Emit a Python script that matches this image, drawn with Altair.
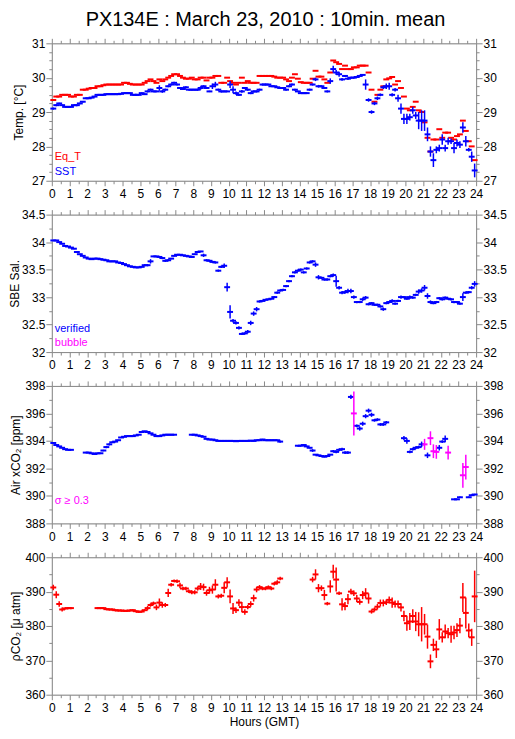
import altair as alt
import pandas as pd
import numpy as np

FONT = "Liberation Sans"
N = None

# ---- 10-minute means, six values per hour (00-24 GMT) ----
eq_t = [
    29.35, 29.45, 29.45, 29.5, 29.5, 29.5,
    29.45, 29.45, 29.5, 29.5, 29.65, 29.65,
    29.68, 29.7, 29.7, 29.75, 29.75, 29.78,
    29.8, 29.8, 29.8, 29.8, 29.8, 29.8,
    29.85, 29.85, 29.82, 29.8, 29.8, 29.8,
    29.8, 29.85, 29.9, 29.95, 29.9, 29.85,
    29.95, 29.9, 29.95, 30.0, 30.05, 30.1,
    30.1, 30.05, 30.0, 29.97, 29.97, 30.0,
    29.95, 29.95, 30.0, 30.0, 29.92, 30.0,
    30.0, 30.05, 30.05, 29.85, 29.85, 30.0,
    29.9, 29.85, 29.8, 29.85, 30.0, 29.85,
    29.9, 29.85, 29.85, 29.85, 30.05, 30.05,
    30.05, 30.05, 30.05, 30.03, 30.0, 30.0,
    30.0, 29.95, 29.9, 30.0, 30.1, 29.97,
    29.87, 29.85, 29.85, 29.85, 29.97, 30.2,
    30.03, 30.03, 29.95, 29.85, 30.15, 30.5,
    30.45, 30.4, 30.25, 30.35, 30.25, 30.25,
    30.3, 30.3, 30.35, 30.35, 30.35, 30.15,
    29.65, 29.3, 29.5, 29.65, 29.75, 29.95,
    29.98, 30.02, 29.8, 29.9, 29.7, 29.45,
    29.1, 29.05, 29.15, 29.3, 29.05, 29.0,
    28.7, 28.25, 27.85, 28.2, 28.2, 28.5,
    28.25, 28.4, 28.4, 28.25, 28.2, 28.3,
    28.35, 28.75, 28.45, 28.15, 28.0, 27.6,
]
sst = [
    29.1, 29.2, 29.25, 29.2, 29.15, 29.15,
    29.15, 29.2, 29.2, 29.25, 29.3, 29.4,
    29.4, 29.42, 29.45, 29.5, 29.5, 29.5,
    29.52, 29.52, 29.52, 29.52, 29.52, 29.53,
    29.55, 29.55, 29.55, 29.5, 29.5, 29.5,
    29.55, 29.52, 29.6, 29.65, 29.6, 29.6,
    29.7, 29.6, 29.65, 29.75, 29.8, 29.85,
    29.8, 29.7, 29.67, 29.72, 29.65, 29.65,
    29.65, 29.65, 29.7, 29.75, 29.7, 29.6,
    29.75, 29.8, 29.65, 29.6, 29.6, 29.6,
    29.8, 29.65, 29.55, 29.5, 29.6, 29.7,
    29.65, 29.55, 29.6, 29.6, 29.65, 29.8,
    29.8, 29.8, 29.75, 29.75, 29.72, 29.7,
    29.7, 29.65, 29.75, 29.8, 29.65, 29.6,
    29.55, 29.55, 29.55, 29.65, 29.8, 29.95,
    29.75, 29.75, 29.7, 29.6, 29.9, 30.25,
    30.15, 30.1, 29.95, 30.05, 29.97, 30.0,
    30.0, 30.02, 30.05, 30.08, 29.8, 29.35,
    29.0, 29.25, 29.4, 29.5, 29.72, 29.75,
    29.75, 29.5, 29.65, 29.4, 29.1, 28.8,
    28.8, 28.85, 29.05, 28.9, 28.75, 28.75,
    28.75, 28.35, 27.85, 27.6, 27.9, 27.95,
    28.2, 27.95, 28.15, 28.15, 27.95, 28.1,
    28.05, 28.55, 28.15, 27.9, 27.7, 27.3,
]
sst_sd = [
    0.03, 0.03, 0.02, 0.02, 0.02, 0.02,
    0.02, 0.02, 0.03, 0.02, 0.02, 0.02,
    0.02, 0.02, 0.02, 0.02, 0.02, 0.02,
    0.02, 0.02, 0.02, 0.02, 0.02, 0.02,
    0.02, 0.02, 0.02, 0.02, 0.03, 0.02,
    0.02, 0.02, 0.03, 0.03, 0.02, 0.02,
    0.08, 0.04, 0.03, 0.03, 0.03, 0.03,
    0.03, 0.03, 0.02, 0.03, 0.02, 0.02,
    0.02, 0.03, 0.05, 0.03, 0.03, 0.02,
    0.08, 0.08, 0.03, 0.03, 0.02, 0.02,
    0.1, 0.1, 0.05, 0.03, 0.04, 0.03,
    0.03, 0.03, 0.03, 0.03, 0.03, 0.03,
    0.03, 0.02, 0.02, 0.02, 0.02, 0.02,
    0.02, 0.03, 0.03, 0.03, 0.03, 0.02,
    0.02, 0.02, 0.02, 0.03, 0.03, 0.05,
    0.04, 0.03, 0.03, 0.03, 0.08, 0.1,
    0.07, 0.07, 0.04, 0.03, 0.04, 0.03,
    0.03, 0.02, 0.02, 0.02, 0.15, 0.05,
    0.05, 0.05, 0.05, 0.04, 0.05, 0.08,
    0.1, 0.05, 0.05, 0.1, 0.15, 0.15,
    0.15, 0.1, 0.1, 0.1, 0.25, 0.3,
    0.3, 0.2, 0.15, 0.2, 0.1, 0.1,
    0.15, 0.1, 0.1, 0.08, 0.15, 0.1,
    0.1, 0.15, 0.15, 0.05, 0.15, 0.2,
]
sal = [
    34.03, 34.03, 34.0, 33.97, 33.93, 33.92,
    33.9, 33.88, 33.82, 33.78, 33.75, 33.72,
    33.7, 33.69, 33.7, 33.7, 33.69, 33.68,
    33.67, 33.65, 33.65, 33.65, 33.63, 33.62,
    33.6, 33.58, 33.56, 33.55, 33.54, 33.54,
    33.55, 33.58, 33.58, 33.65, 33.74, 33.74,
    33.73, 33.71, 33.66, 33.67, 33.7, 33.75,
    33.77, 33.77, 33.76, 33.75, 33.74, 33.73,
    33.78, 33.82, 33.83, 33.76, 33.67, 33.66,
    33.64, 33.63, 33.48, 33.55, 33.57, 33.18,
    32.73, 32.57, 32.53, 32.44, 32.33, 32.34,
    32.37, 32.53, 32.7, 32.78, 32.92, 32.93,
    32.95, 32.96, 32.97, 33.0, 33.08, 33.12,
    33.13, 33.2, 33.29, 33.38, 33.45, 33.48,
    33.5, 33.45, 33.52, 33.63, 33.65, 33.59,
    33.36, 33.35, 33.32, 33.32, 33.38, 33.4,
    33.29, 33.17, 33.08, 33.09, 33.11, 33.11,
    33.0, 32.91, 32.91, 32.96, 32.99, 32.87,
    32.89, 32.86, 32.86, 32.83, 32.78, 32.89,
    32.91, 32.93, 32.88, 32.93, 33.0, 33.0,
    32.97, 33.0, 32.99, 33.04, 33.1, 33.12,
    33.17, 33.02, 32.91, 32.89, 32.91, 32.98,
    32.96, 32.99, 32.97, 32.96, 32.91, 32.91,
    32.88, 33.0, 33.08, 33.09, 33.17, 33.24,
]
sal_sd = [
    0.01, 0.01, 0.01, 0.01, 0.01, 0.01,
    0.01, 0.01, 0.01, 0.01, 0.01, 0.01,
    0.01, 0.01, 0.01, 0.01, 0.01, 0.01,
    0.01, 0.01, 0.01, 0.01, 0.01, 0.01,
    0.01, 0.01, 0.01, 0.01, 0.01, 0.01,
    0.01, 0.02, 0.02, 0.04, 0.01, 0.01,
    0.01, 0.02, 0.02, 0.02, 0.01, 0.01,
    0.01, 0.01, 0.01, 0.01, 0.01, 0.01,
    0.01, 0.01, 0.01, 0.03, 0.02, 0.02,
    0.02, 0.02, 0.02, 0.02, 0.04, 0.08,
    0.12, 0.03, 0.03, 0.03, 0.02, 0.02,
    0.03, 0.04, 0.04, 0.04, 0.02, 0.01,
    0.01, 0.01, 0.01, 0.02, 0.02, 0.02,
    0.02, 0.02, 0.02, 0.02, 0.02, 0.02,
    0.02, 0.02, 0.02, 0.02, 0.02, 0.04,
    0.04, 0.02, 0.02, 0.02, 0.02, 0.03,
    0.1, 0.03, 0.03, 0.03, 0.04, 0.04,
    0.03, 0.02, 0.02, 0.03, 0.03, 0.02,
    0.02, 0.02, 0.02, 0.02, 0.03, 0.02,
    0.02, 0.03, 0.02, 0.02, 0.03, 0.02,
    0.02, 0.03, 0.02, 0.02, 0.04, 0.04,
    0.05, 0.05, 0.03, 0.02, 0.02, 0.02,
    0.02, 0.02, 0.02, 0.02, 0.02, 0.02,
    0.02, 0.07, 0.02, 0.02, 0.03, 0.05,
]
xco2 = [
    393.85, 393.7, 393.6, 393.5, 393.4, 393.35,
    393.35, N, N, N, N, 393.15,
    393.15, 393.1, 393.05, 393.1, 393.1, 393.3,
    393.55, 393.75, 393.9, 393.95, 394.05, 394.25,
    394.3, 394.35, 394.35, 394.35, 394.4, 394.45,
    394.65, 394.7, 394.65, 394.55, 394.45, 394.35,
    394.35, 394.4, 394.45, 394.45, 394.45, 394.45,
    N, N, N, N, N, 394.45,
    394.45, 394.4, 394.35, 394.3, 394.15, 394.1,
    394.1, 394.05, 394.0, 394.0, 394.0, 394.0,
    394.0, 394.0, 393.98, 394.0, 394.0, 394.0,
    394.0, 394.02, 394.0, 394.05, 394.05, 394.1,
    394.05, 394.05, 394.05, 394.05, 394.05, 393.95,
    N, N, N, N, N, 393.65,
    393.65, 393.7, 393.6, 393.5, 393.3, 393.0,
    392.95, 392.9, 392.85, 392.9, 393.0, 393.25,
    393.2, 393.35, 393.4, 393.15, 393.15, 397.2,
    396.0, 395.1, 394.9, 395.25, 395.8, 396.2,
    395.9, 395.5, 395.55, 395.2, 395.2, 395.35,
    N, N, N, N, N, 394.2,
    394.0, 393.2, 393.4, 393.5, 393.55, 393.75,
    393.75, 392.95, 394.2, 393.25, 393.2, 393.5,
    393.95, 394.15, 393.15, N, 389.75, 389.75,
    389.9, 391.5, 392.1, 389.9, 390.05, 390.1,
]
xco2_sd = [
    0.05, 0.03, 0.03, 0.03, 0.03, 0.03,
    0.03, N, N, N, N, 0.03,
    0.03, 0.03, 0.03, 0.03, 0.03, 0.05,
    0.08, 0.08, 0.05, 0.05, 0.03, 0.03,
    0.03, 0.03, 0.03, 0.03, 0.03, 0.03,
    0.05, 0.03, 0.03, 0.03, 0.03, 0.03,
    0.03, 0.03, 0.03, 0.03, 0.03, 0.03,
    N, N, N, N, N, 0.03,
    0.03, 0.03, 0.03, 0.03, 0.03, 0.03,
    0.03, 0.03, 0.03, 0.03, 0.03, 0.03,
    0.03, 0.03, 0.03, 0.03, 0.03, 0.03,
    0.03, 0.03, 0.03, 0.03, 0.03, 0.05,
    0.03, 0.03, 0.03, 0.03, 0.03, 0.08,
    N, N, N, N, N, 0.05,
    0.05, 0.05, 0.05, 0.05, 0.1, 0.05,
    0.05, 0.05, 0.05, 0.05, 0.05, 0.08,
    0.1, 0.1, 0.1, 0.1, 0.1, 0.15,
    1.6, 0.1, 0.15, 0.15, 0.15, 0.15,
    0.15, 0.1, 0.1, 0.1, 0.1, 0.1,
    N, N, N, N, N, 0.15,
    0.2, 0.1, 0.1, 0.1, 0.1, 0.2,
    0.4, 0.2, 0.5, 0.5, 0.5, 0.2,
    0.1, 0.25, 0.5, N, 0.03, 0.03,
    0.05, 0.9, 0.9, 0.05, 0.05, 0.05,
]
pco2 = [
    391.2, 389.1, 386.4, 384.8, 385.1, 385.2,
    385.2, N, N, N, N, N,
    N, N, N, 385.2, 385.2, 385.2,
    384.9, 384.8, 384.8, 384.6, 384.5, 384.5,
    384.4, 384.4, 384.5, 384.6, 384.3, 384.1,
    384.2, 384.6, 385.2, 386.1, 386.6, 385.4,
    386.8, 386.1, 386.1, 389.6, 392.0, 393.1,
    393.0, 391.8, 390.9, 390.9, 390.1, 389.8,
    389.8, 390.9, 391.5, 391.3, 389.6, 390.4,
    390.6, 392.0, 388.6, 388.8, 391.1, 392.7,
    388.6, 385.1, 384.6, 386.8, 385.5, 384.1,
    385.5, 386.4, 388.1, 390.6, 391.3, 390.9,
    390.9, 391.3, 390.9, 392.3, 392.7, 393.8,
    N, N, N, N, N, N,
    N, N, N, N, 393.5, 395.0,
    391.0, 391.0, 389.0, 386.5, 391.5, 395.8,
    393.5, 389.5, 386.3, 385.8, 387.8, 390.0,
    389.5, 388.0, 387.0, 389.0, 389.5, 388.0,
    384.2, 384.8, 385.6, 386.7, 386.7, 386.9,
    387.6, 386.8, 386.4, 386.4, 385.4, 382.9,
    380.8, 381.3, 382.9, 381.3, 380.5, 380.5,
    380.5, 376.9, 369.7, 374.5, 373.2, 379.0,
    376.7, 378.4, 377.9, 377.6, 378.1, 378.8,
    380.1, 388.3, 383.8, 378.7, 376.7, 388.6,
]
pco2_sd = [
    0.8, 1.0, 0.8, 0.6, 0.3, 0.3,
    0.3, N, N, N, N, N,
    N, N, N, 0.3, 0.3, 0.3,
    0.3, 0.3, 0.3, 0.3, 0.3, 0.3,
    0.3, 0.3, 0.3, 0.3, 0.3, 0.3,
    0.3, 0.3, 0.6, 0.5, 0.5, 0.8,
    1.2, 0.8, 0.6, 1.2, 0.5, 0.4,
    0.5, 0.8, 0.5, 0.5, 0.5, 0.6,
    0.6, 0.6, 1.0, 1.0, 0.8, 1.0,
    1.2, 1.6, 0.6, 0.6, 1.6, 1.5,
    2.0, 1.6, 0.8, 1.0, 1.5, 0.8,
    0.6, 0.8, 1.0, 0.8, 0.6, 0.5,
    0.5, 0.5, 0.5, 0.5, 0.6, 0.5,
    N, N, N, N, N, N,
    N, N, N, N, 0.8, 1.5,
    1.2, 0.8, 1.5, 0.5, 1.8, 2.0,
    3.5, 0.5, 1.8, 1.2, 1.5, 0.8,
    0.8, 1.0, 0.8, 1.2, 1.5, 1.5,
    0.6, 0.6, 0.8, 1.0, 1.0, 0.8,
    1.0, 1.5, 1.0, 1.0, 1.2, 1.5,
    2.2, 2.5, 2.0, 2.8, 3.5, 5.0,
    3.0, 3.5, 2.0, 1.8, 2.5, 3.0,
    1.5, 2.0, 1.5, 2.5, 2.0, 2.0,
    2.2, 4.2, 4.5, 2.0, 2.5, 7.5,
]

T_CENTER = [(i + 0.5) / 6 for i in range(144)]
HALF = 1 / 6
X_TICKS = [i * 0.5 for i in range(49)]


def frame(values, sd=None):
    d = pd.DataFrame({"t": T_CENTER, "v": values})
    d["sd"] = sd if sd is not None else [0.0] * 144
    d = d.dropna(subset=["v"]).copy()
    d["t0"] = d["t"] - HALF
    d["t1"] = d["t"] + HALF
    d["lo"] = d["v"] - d["sd"]
    d["hi"] = d["v"] + d["sd"]
    return d


XSCALE = alt.Scale(domain=[0, 24], nice=False, zero=False)


def tick_size(test, big, small):
    return {"condition": {"test": test, "value": big}, "value": small}


def x_axis(orient, labels, title=None):
    kw = dict(
        orient=orient, values=X_TICKS, labels=labels, labelOverlap=False,
        labelFlush=False, labelPadding=3, labelFontSize=12, labelFont=FONT,
        labelExpr="datum.value % 1 === 0 ? '' + datum.value : ''",
        tickSize=tick_size("datum.value % 1 === 0", 5, 3),
        domain=True, grid=False,
    )
    if title:
        kw.update(title=title, titleFont=FONT, titleFontSize=12,
                  titleFontWeight="normal", titlePadding=3)
    else:
        kw.update(title=None)
    return alt.Axis(**kw)


def y_axis(orient, values, major, title=None, tpad=0):
    test = f"abs(datum.value / {major} - round(datum.value / {major})) < 1e-6"
    kw = dict(
        orient=orient, values=values, labelOverlap=False, labelFlush=False,
        labelPadding=1, labelFontSize=12, labelFont=FONT,
        labelExpr=f"{test} ? '' + datum.value : ''",
        tickSize=tick_size(test, 6, 3), grid=False, domain=True,
    )
    if title:
        kw.update(title=title, titleFont=FONT, titleFontSize=12,
                  titleFontWeight="normal", titlePadding=tpad)
    else:
        kw.update(title=None)
    return alt.Axis(**kw)


def legend_text(text, color, y):
    return alt.Chart(pd.DataFrame({"label": [text]})).mark_text(
        align="left", baseline="alphabetic", font=FONT, fontSize=11, color=color
    ).encode(x=alt.value(3), y=alt.value(y), text="label:N")


def panel(series, domain, ticks, major, ytitle, legends, bottom_title=None, tpad=0):
    ys = alt.Scale(domain=domain, nice=False, zero=False)
    layers = []
    first = True
    for values, sd, color, cond in series:
        d = frame(values, sd)
        col = alt.value(color) if cond is None else alt.condition(
            f"datum.sd >= {cond}", alt.value("#FF00FF"), alt.value(color))
        h = alt.Chart(d).mark_rule(strokeWidth=2).encode(
            x=alt.X("t0:Q", scale=XSCALE,
                    axis=x_axis("bottom", True, bottom_title) if first else None),
            x2="t1:Q",
            y=alt.Y("v:Q", scale=ys,
                    axis=y_axis("left", ticks, major, ytitle, tpad) if first else None),
            color=col,
        )
        layers.append(h)
        if sd is not None:
            v = alt.Chart(d).mark_rule(strokeWidth=1.5).encode(
                x=alt.X("t:Q", scale=XSCALE, axis=None),
                y=alt.Y("lo:Q", scale=ys, axis=None),
                y2="hi:Q",
                color=col,
            )
            layers.append(v)
        first = False
    # top and right axes
    d0 = frame(series[0][0])
    ax = alt.Chart(d0).mark_rule(opacity=0).encode(
        x=alt.X("t:Q", scale=XSCALE, axis=x_axis("top", False)),
        y=alt.Y("v:Q", scale=ys, axis=y_axis("right", ticks, major)),
    )
    layers.append(ax)
    for text, color, y in legends:
        layers.append(legend_text(text, color, y))
    return alt.layer(*layers).resolve_axis(x="independent", y="independent").properties(
        width=426, height=138)


def frange(a, b, s):
    n = int(round((b - a) / s))
    return [round(a + k * s, 4) for k in range(n + 1)]


p1 = panel(
    [(eq_t, None, "#FF0000", None), (sst, sst_sd, "#0000FF", None)],
    [27, 31], frange(27, 31, 0.25), 1, "Temp. [°C]",
    [("Eq_T", "#FF0000", 117), ("SST", "#0000FF", 132)], tpad=6,
)
p2 = panel(
    [(sal, sal_sd, "#0000FF", None)],
    [32, 34.5], frange(32, 34.5, 0.25), 0.5, "SBE Sal.",
    [("verified", "#0000FF", 118), ("bubble", "#FF00FF", 132)],
)
p3 = panel(
    [(xco2, xco2_sd, "#0000FF", 0.3)],
    [388, 398], frange(388, 398, 1), 2, "Air xCO₂ [ppm]",
    [("σ ≥ 0.3", "#FF00FF", 119)], tpad=2,
)
p4 = panel(
    [(pco2, pco2_sd, "#FF0000", None)],
    [360, 400], frange(360, 400, 5), 10, "ρCO₂ [μ atm]",
    [], bottom_title="Hours (GMT)", tpad=2,
)

chart = alt.vconcat(p1, p2, p3, p4, spacing=34, bounds="flush").properties(
    title=alt.TitleParams(
        "PX134E : March 23, 2010 : 10min. mean", font=FONT, fontSize=20,
        fontWeight="normal", anchor="middle", offset=7, dx=8, color="black"),
    padding={"left": 0, "top": 0, "right": 0, "bottom": 0},
).configure_view(stroke="black", strokeWidth=1).configure_axis(
    domainColor="black", tickColor="black", labelColor="black",
    titleColor="black", domainWidth=1, tickWidth=1,
).configure(background="white")

chart.save("out.html", embed_options={"renderer": "svg", "actions": False})
